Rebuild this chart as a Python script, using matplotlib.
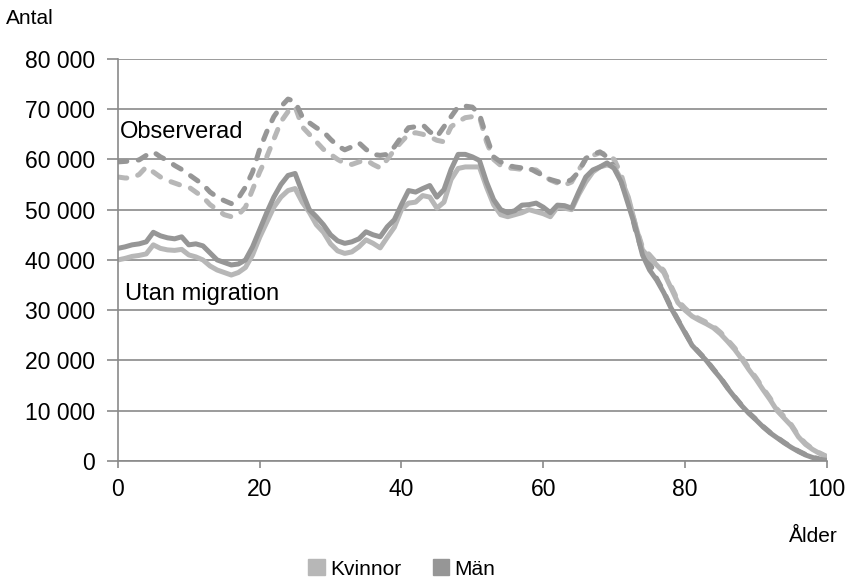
import matplotlib
matplotlib.use("Agg")
import matplotlib.pyplot as plt
from matplotlib.patches import Patch
from matplotlib.ticker import FuncFormatter
import numpy as np

plt.rcParams["font.family"] = ["Liberation Sans", "DejaVu Sans"]

# ages 0..100, values in thousands
ages = list(range(0, 101))

man_utan = [
    42.3, 42.6, 43.0, 43.2, 43.6, 45.5, 44.8, 44.4, 44.2, 44.6,
    43.0, 43.2, 42.8, 41.4, 40.0, 39.5, 39.0, 39.2, 40.0, 42.6,
    46.0, 49.4, 52.5, 55.0, 56.8, 57.2, 53.5, 50.0, 48.6, 47.0,
    45.0, 43.8, 43.3, 43.6, 44.2, 45.6, 45.0, 44.6, 46.6, 48.0,
    51.0, 53.8, 53.5, 54.2, 54.8, 52.5, 54.0, 58.0, 61.0, 61.0,
    60.5, 59.8, 55.5, 52.0, 50.0, 49.4, 49.8, 50.9, 51.0, 51.3,
    50.5, 49.4, 50.9, 50.8, 50.3, 53.5, 56.5, 57.9, 58.5, 59.3,
    58.2, 55.5, 51.0, 46.5, 41.0, 38.0, 36.0, 33.5, 30.5, 28.0,
    25.5, 23.0, 21.5, 20.0, 18.2, 16.5, 14.5, 12.7, 11.0, 9.5,
    8.2, 6.8, 5.6, 4.6, 3.6, 2.7, 1.9, 1.2, 0.7, 0.3,
    0.15,
]

kvinnor_utan = [
    40.0, 40.3, 40.7, 40.9, 41.2, 43.0, 42.3, 42.0, 41.9, 42.1,
    41.0, 40.6, 40.0, 38.8, 38.0, 37.5, 37.0, 37.5, 38.5, 41.0,
    44.5, 47.5, 50.5, 52.5, 53.8, 54.2, 51.5, 49.5, 47.0, 45.5,
    43.2, 41.8, 41.3, 41.6, 42.6, 44.0, 43.3, 42.4, 44.5, 46.5,
    50.0, 51.3, 51.5, 52.8, 52.5, 50.3, 51.5, 56.0, 58.2, 58.5,
    58.5, 58.5, 54.5, 51.0, 49.0, 48.6, 49.0, 49.4, 50.0, 49.6,
    49.2, 48.6, 50.5, 50.3, 50.0, 53.0, 55.5, 57.5, 58.5, 58.9,
    58.5, 56.0, 52.5, 47.0, 42.0, 40.4, 39.0, 37.5, 34.5, 31.5,
    30.0, 28.8, 28.0, 27.3, 26.5, 25.3, 23.8, 22.2, 20.3, 18.2,
    16.3, 14.2, 12.2, 10.0, 8.5, 7.0, 4.8, 3.3, 2.3, 1.5,
    0.8,
]

man_obs = [
    59.5, 59.6, 59.7, 59.9, 60.8, 61.5, 60.5, 59.8, 58.8, 58.0,
    57.0, 56.0, 55.0, 53.5, 52.5, 51.8, 51.2, 52.3, 54.5, 57.5,
    62.0, 65.5, 68.5, 70.5, 72.0, 71.5, 68.5, 67.3, 66.3, 65.5,
    64.0, 62.7, 61.9, 62.5, 63.3, 62.0, 61.0, 60.8, 61.0, 62.5,
    64.5, 66.3, 66.5, 66.9, 65.5, 64.5, 66.5, 68.5, 70.5, 70.6,
    70.4, 69.0, 64.5, 60.5, 59.5, 58.8, 58.5, 58.3, 58.3, 57.5,
    56.8, 56.0, 55.6, 55.3, 56.0, 57.5, 60.2, 61.0, 61.5, 60.5,
    58.5, 55.5, 51.9, 46.0, 41.5, 39.5, 36.3, 33.7, 30.7, 28.1,
    25.6, 23.1, 21.6, 20.1, 18.3, 16.6, 14.6, 12.8, 11.1, 9.6,
    8.3, 6.9, 5.7, 4.7, 3.7, 2.8, 2.0, 1.3, 0.8, 0.4,
    0.2,
]

kvinnor_obs = [
    56.5, 56.3, 56.3, 57.0, 58.5, 57.5, 56.5, 55.8, 55.3, 54.8,
    54.5, 53.5, 52.5, 51.0, 50.0, 49.0, 48.6, 49.0, 50.5, 54.0,
    57.5, 60.5, 64.0, 67.5, 69.5, 70.5, 66.5, 65.0, 63.5, 62.0,
    61.0, 60.0, 59.2, 59.0, 59.5, 59.9, 59.0, 58.3, 60.0, 61.9,
    63.5, 65.0, 65.3, 65.0, 64.5, 63.8, 63.5, 66.5, 67.5, 68.3,
    68.5, 68.5, 63.5, 60.0, 58.8, 58.3, 58.2, 58.0, 58.0, 57.9,
    56.8, 55.9, 55.3, 54.9, 55.5, 57.9, 60.0, 60.8, 61.3, 61.0,
    60.0, 57.0, 52.0, 47.0, 42.5, 41.0, 39.4, 37.9, 34.9, 31.9,
    30.4, 29.1, 28.3, 27.6, 26.8, 25.6, 24.1, 22.5, 20.6, 18.5,
    16.6, 14.5, 12.5, 10.3, 8.8, 7.2, 5.0, 3.5, 2.4, 1.6,
    0.9,
]

C_KV = "#b7b7b7"
C_MAN = "#969696"
C_GRID = "#8a8a8a"

x = np.array(ages)
fig = plt.figure(figsize=(8.48, 5.77), dpi=100)
ax = fig.add_axes([0.139, 0.201, 0.836, 0.697])

LW = 3.6
dash = (0, (1.8, 2.3))
style_d = dict(lw=LW, ls=dash, dash_capstyle="round", solid_joinstyle="round")
style_s = dict(lw=LW, solid_capstyle="round", solid_joinstyle="round")
ax.plot(x, np.array(kvinnor_obs) * 1000, color=C_KV, **style_d)
ax.plot(x, np.array(man_obs) * 1000, color=C_MAN, **style_d)
ax.plot(x, np.array(kvinnor_utan) * 1000, color=C_KV, **style_s)
ax.plot(x, np.array(man_utan) * 1000, color=C_MAN, **style_s)

ax.set_xlim(0, 100)
ax.set_ylim(0, 80000)
ax.set_xticks(range(0, 101, 20))
ax.set_yticks(range(0, 80001, 10000))
ax.yaxis.set_major_formatter(FuncFormatter(lambda v, p: f"{int(v):,}".replace(",", " ")))
ax.grid(axis="y", color=C_GRID, lw=1.2)
ax.set_axisbelow(True)
for s in ("top", "right"):
    ax.spines[s].set_visible(False)
for s in ("left", "bottom"):
    ax.spines[s].set_color(C_GRID)
    ax.spines[s].set_linewidth(1.2)
ax.tick_params(axis="both", colors=C_GRID, labelcolor="black", labelsize=16.5,
               width=1.2)
ax.tick_params(axis="x", length=5, pad=7)
ax.tick_params(axis="y", length=8, pad=8.5)

ax.text(0.3, 65500, "Observerad", fontsize=17, va="center", ha="left")
ax.text(1.0, 33200, "Utan migration", fontsize=17, va="center", ha="left")

fig.text(6 / 848, 1 - 18 / 577, "Antal", fontsize=15, va="center", ha="left")
fig.text(838 / 848, 1 - 537 / 577, "Ålder", fontsize=15, va="center", ha="right")

handles = [Patch(color=C_KV, label="Kvinnor"), Patch(color=C_MAN, label="Män")]
fig.legend(handles=handles, loc="center", bbox_to_anchor=(0.474, 1 - 569 / 577),
           ncol=2, frameon=False, fontsize=15, handlelength=0.8, handleheight=0.8,
           handletextpad=0.25, columnspacing=1.5, borderpad=0)

fig.savefig("out.png", dpi=100)
